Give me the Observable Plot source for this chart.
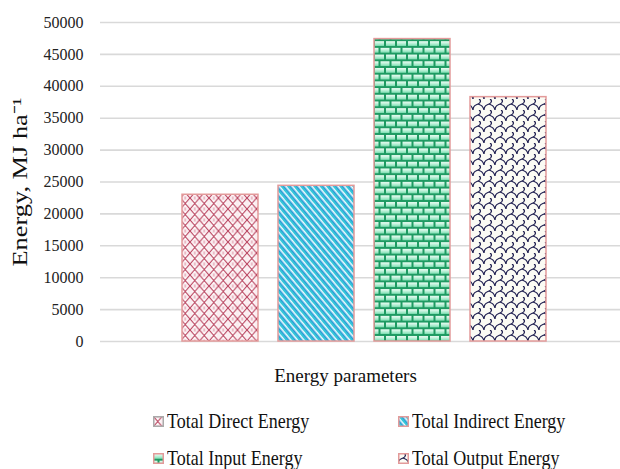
<!DOCTYPE html>
<html>
<head>
<meta charset="utf-8">
<script src="https://cdn.jsdelivr.net/npm/d3@7"></script>
<script src="https://cdn.jsdelivr.net/npm/@observablehq/plot@0.6"></script>
<style>
  body { margin: 0; background: #fff; font-family: "Liberation Serif", "Times New Roman", serif; }
  #chart { width: 620px; height: 395px; }
  #chart svg text { font-family: "Liberation Serif", "Times New Roman", serif !important; }
  .legend { position: relative; width: 620px; height: 74px; font-family: "Liberation Serif", serif; font-size: 18px; color: #111; }
  .item { position: absolute; display: flex; align-items: center; white-space: nowrap; }
  .item svg { margin-right: 3px; }
  .item span { display: inline-block; transform: scaleY(1.12); }
</style>
</head>
<body>
<div id="chart"></div>
<div class="legend" id="legend"></div>
<script>
const categories = ["Total Direct Energy", "Total Indirect Energy", "Total Input Energy", "Total Output Energy"];
const values = [23000, 24400, 47400, 38300];
const yTicks = [0, 5000, 10000, 15000, 20000, 25000, 30000, 35000, 40000, 45000, 50000];
const patternIds = ["pDirect", "pIndirect", "pInput", "pOutput"];
const xTitle = "Energy parameters";
const yTitle = "Energy, MJ ha⁻¹";

const data = categories.map((c, i) => ({category: c, value: values[i], pattern: `url(#${patternIds[i]})`}));

const font = '"Liberation Serif", "Times New Roman", serif';

const chart = Plot.plot({
  width: 620,
  height: 395,
  marginTop: 22,
  marginBottom: 54,
  marginLeft: 100,
  marginRight: 0,
  style: {fontFamily: font, fontSize: "16px", color: "#222", background: "#fff"},
  x: {domain: categories, range: [172, 556], paddingInner: 0.2083, paddingOuter: 0.104, axis: null},
  y: {domain: [0, 50000], ticks: yTicks, label: null},
  color: {type: "identity"},
  marks: [
    Plot.ruleY(yTicks, {stroke: "#d9d9d9", strokeWidth: 1.6}),
    Plot.axisY({ticks: yTicks, tickSize: 0, tickPadding: 17, tickFormat: d => String(d), label: null, fontSize: 16, fill: "#222"}),
    Plot.barY(data, {x: "category", y: "value", fill: "pattern", stroke: "#e39a9a", strokeWidth: 1.5}),
    Plot.text([yTitle], {frameAnchor: "left", textAnchor: "middle", rotate: -90, dx: -80, fontSize: 21, fill: "#111", text: d => d}),
    Plot.text([xTitle], {frameAnchor: "bottom", dx: -15, dy: 40, fontSize: 19, fill: "#111", text: d => d})
  ]
});

// Pattern definitions
const svg = d3.select(chart);
const defs = svg.insert("defs", ":first-child");

// Direct energy: pink diamond lattice
const p1 = defs.append("pattern").attr("id", "pDirect").attr("patternUnits", "userSpaceOnUse").attr("width", 9.5).attr("height", 11);
p1.append("rect").attr("width", 9.5).attr("height", 11).attr("fill", "#fbeef1");
p1.append("ellipse").attr("cx", 4.75).attr("cy", 5.5).attr("rx", 2.6).attr("ry", 3.2).attr("fill", "#ffffff");
p1.append("path").attr("d", "M0,0 L9.5,11 M9.5,0 L0,11").attr("stroke", "#b8405c").attr("stroke-width", 1.1).attr("fill", "none");
p1.append("path").attr("d", "M4.75,0 L4.75,1.5 M4.75,9.5 L4.75,11").attr("stroke", "#d07085").attr("stroke-width", 0.8);

// Indirect energy: cyan/blue diagonal stripes
const p2 = defs.append("pattern").attr("id", "pIndirect").attr("patternUnits", "userSpaceOnUse").attr("width", 5).attr("height", 5).attr("patternTransform", "rotate(-40)");
p2.append("rect").attr("width", 5).attr("height", 5).attr("fill", "#eefcff");
p2.append("rect").attr("x", 0).attr("width", 2.0).attr("height", 5).attr("fill", "#35c6d9");
p2.append("rect").attr("x", 2.0).attr("width", 1.4).attr("height", 5).attr("fill", "#2a96d4");

// Input energy: green bricks
const p3 = defs.append("pattern").attr("id", "pInput").attr("patternUnits", "userSpaceOnUse").attr("width", 11).attr("height", 13.4);
p3.append("rect").attr("width", 11).attr("height", 13.4).attr("fill", "#1e9a62");
const brickGrad = defs.append("linearGradient").attr("id", "brickGrad").attr("x1", 0).attr("y1", 0).attr("x2", 0).attr("y2", 1);
brickGrad.append("stop").attr("offset", "0").attr("stop-color", "#f2fff8");
brickGrad.append("stop").attr("offset", "1").attr("stop-color", "#7fe0b4");
p3.append("rect").attr("x", 1).attr("y", 1).attr("width", 9).attr("height", 4.7).attr("fill", "url(#brickGrad)");
p3.append("rect").attr("x", -4.5).attr("y", 7.7).attr("width", 9).attr("height", 4.7).attr("fill", "url(#brickGrad)");
p3.append("rect").attr("x", 6.5).attr("y", 7.7).attr("width", 9).attr("height", 4.7).attr("fill", "url(#brickGrad)");

// Output energy: dark navy scallops
const p4 = defs.append("pattern").attr("id", "pOutput").attr("patternUnits", "userSpaceOnUse").attr("width", 11).attr("height", 11);
p4.append("rect").attr("width", 11).attr("height", 11).attr("fill", "#fbfbf4");
p4.append("path").attr("d", "M0,11 C0,6 3,6 5,5 C8,4 8,1 6,0 M5,5 C7,6 10,6 11,11").attr("stroke", "#1c1c4e").attr("stroke-width", 1.3).attr("fill", "none");

// Stretch the rotated y title along its length to match the reference
svg.selectAll("text").filter(function() { return this.textContent === yTitle; })
  .attr("textLength", 169).attr("lengthAdjust", "spacingAndGlyphs");

document.getElementById("chart").appendChild(chart);

// Legend
const legend = d3.select("#legend");
const positions = [[153, 28], [398, 28], [153, 65], [398, 65]];
categories.forEach((c, i) => {
  const item = legend.append("div").attr("class", "item")
    .style("left", positions[i][0] + "px").style("top", (positions[i][1] - 12) + "px");
  const s = item.append("svg").attr("width", 11).attr("height", 11);
  s.append("rect").attr("x", 0.75).attr("y", 0.75).attr("width", 9.5).attr("height", 9.5)
    .attr("fill", `url(#${patternIds[i]})`).attr("stroke", i === 0 ? "#aaaaaa" : "#e39a9a").attr("stroke-width", 1.5);
  item.append("span").text(c);
});
</script>
</body>
</html>
